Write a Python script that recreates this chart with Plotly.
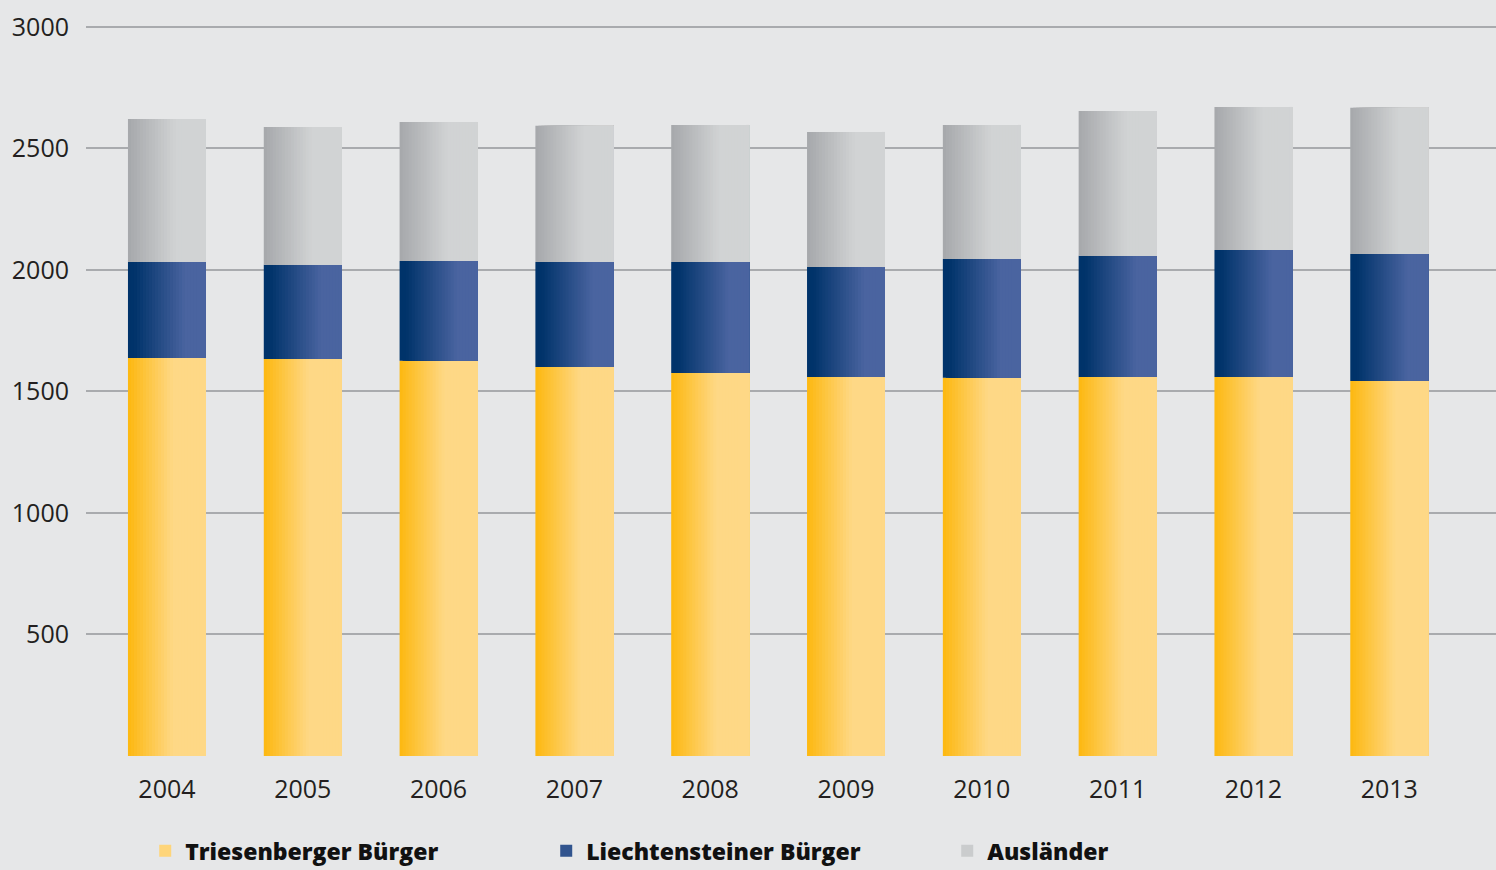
import plotly.graph_objects as go

years = ['2004', '2005', '2006', '2007', '2008', '2009', '2010', '2011', '2012', '2013']
triesenberger = [1638, 1634, 1626, 1601, 1576, 1560, 1556, 1560, 1560, 1543]
liechtensteiner = [395, 387, 411, 432, 457, 452, 489, 498, 522, 523]
auslaender = [588, 567, 572, 560, 564, 556, 552, 596, 589, 601]
series_names = ['Triesenberger Bürger', 'Liechtensteiner Bürger', 'Ausländer']
y_ticks = [0, 500, 1000, 1500, 2000, 2500, 3000]
y_ticktext = ['', '500', '1000', '1500', '2000', '2500', '3000']

# gradient styles: (left colour, right colour, ramp start, ramp end)
grad = [
    ((253, 185, 19), (254, 216, 134), 0.02, 0.58),
    ((0, 51, 106), (74, 100, 160), 0.08, 0.74),
    ((167, 169, 172), (209, 211, 212), 0.02, 0.62),
]

def colour_at(g, f):
    c0, c1, a, b = g
    t = min(max((f - a) / (b - a), 0.0), 1.0)
    return 'rgb(%d,%d,%d)' % tuple(round(c0[k] + (c1[k] - c0[k]) * t) for k in range(3))

values = [triesenberger, liechtensteiner, auslaender]
bases = [
    [0] * len(years),
    triesenberger,
    [a + b for a, b in zip(triesenberger, liechtensteiner)],
]

BAR_W = 0.574
N = 26
fig = go.Figure()
for s in range(3):
    for i in range(N):
        f = i / N
        fig.add_trace(go.Bar(
            x=years, y=values[s], base=bases[s],
            width=BAR_W * (1 - f), offset=-BAR_W / 2 + BAR_W * f,
            marker=dict(color=colour_at(grad[s], (i + 0.5) / N), line=dict(width=0)),
            name=series_names[s], legendgroup=series_names[s],
            showlegend=(i == N // 2),
            hovertemplate='%{x}: %{y}<extra>' + series_names[s] + '</extra>',
        ))

fig.update_layout(
    width=1496, height=870,
    barmode='overlay',
    paper_bgcolor='#E6E7E8', plot_bgcolor='#E6E7E8',
    margin=dict(l=86, r=0, t=25, b=114, autoexpand=False),
    font=dict(family='Open Sans', size=25, color='#231F20'),
    xaxis=dict(type='category', range=[-0.596, 9.786], showgrid=False, showline=False,
               zeroline=False, ticks='', ticklabelstandoff=16),
    yaxis=dict(range=[0, 3008], tickvals=y_ticks, ticktext=y_ticktext, showgrid=True,
               gridcolor='#A9ABAE', gridwidth=2, zeroline=False, showline=False,
               ticks='', ticklabelstandoff=16),
    legend=dict(orientation='h', x=0.042, xanchor='left', yref='container', y=0.022,
                yanchor='middle',
                font=dict(size=23, weight=800, color='#111111'),
                bgcolor='rgba(0,0,0,0)', entrywidth=356, traceorder='normal'),
    showlegend=True,
)

fig.write_html('out.html')
